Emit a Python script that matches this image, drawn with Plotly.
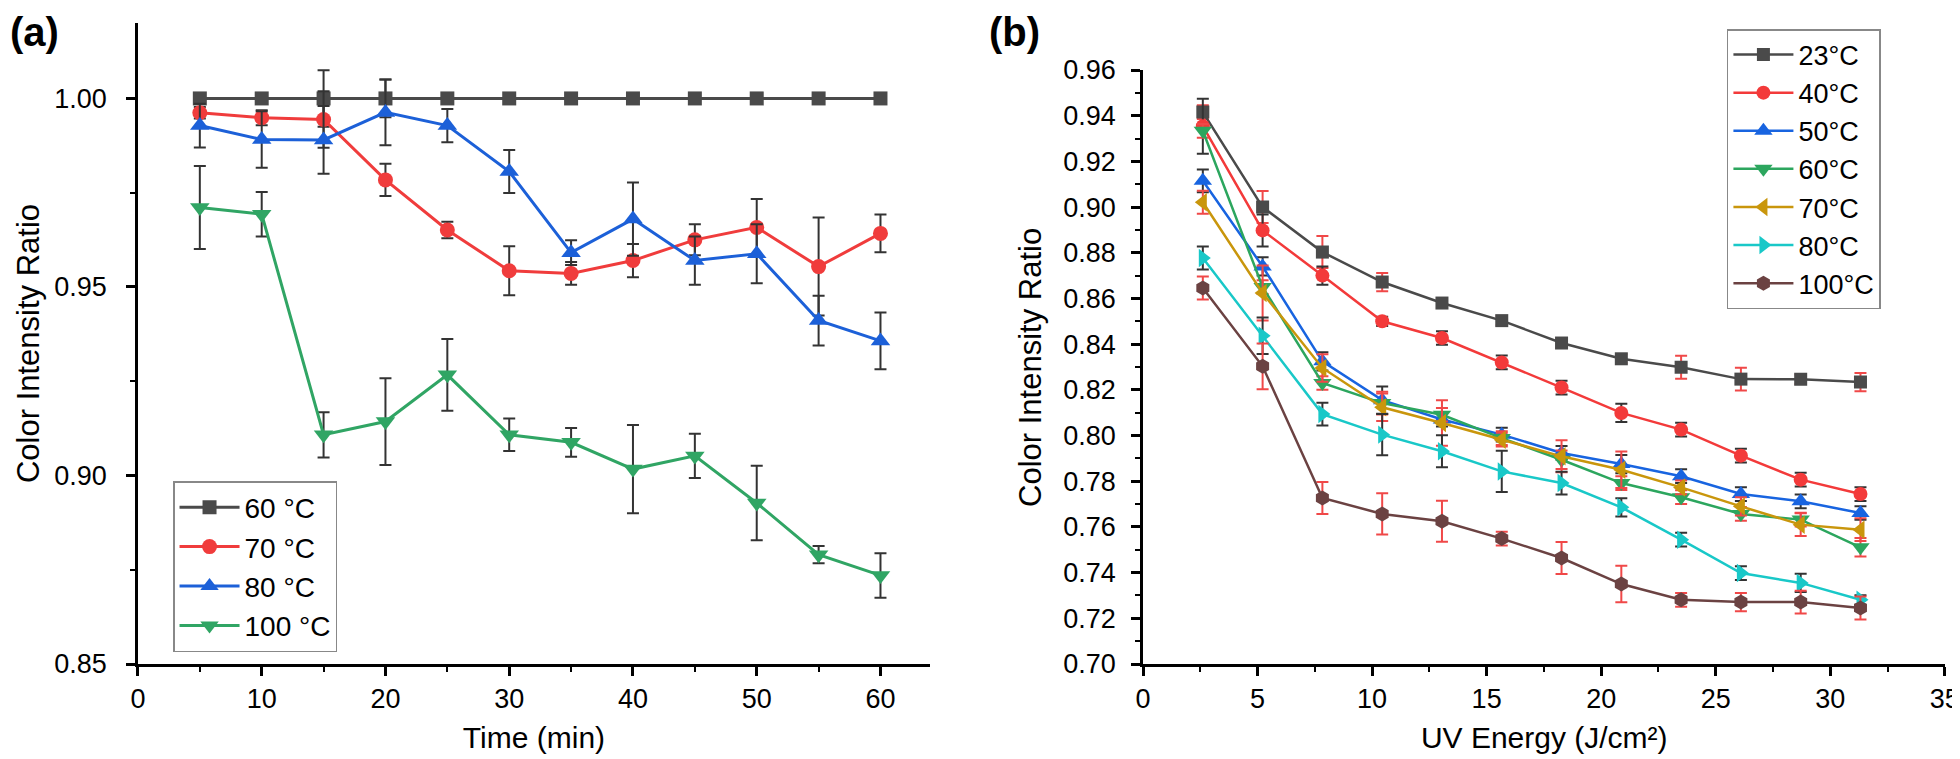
import plotly.graph_objects as go

# (a) colour ratio vs heating time
time_min = [5, 10, 15, 20, 25, 30, 35, 40, 45, 50, 55, 60]
a_names = ["60 °C", "70 °C", "80 °C", "100 °C"]
a_60 = [1.000, 1.000, 1.000, 1.000, 1.000, 1.000, 1.000, 1.000, 1.000, 1.000, 1.000, 1.000]
a_60_err = [0.001, 0.001, 0.0075, 0.005, 0.001, 0.001, 0.001, 0.001, 0.001, 0.001, 0.001, 0.001]
a_70 = [0.9962, 0.9949, 0.9944, 0.9784, 0.9651, 0.9543, 0.9536, 0.9570, 0.9625, 0.9658, 0.9554, 0.9642]
a_70_err = [0.0015, 0.002, 0.0075, 0.0043, 0.0022, 0.0065, 0.003, 0.0044, 0.0041, 0.0075, 0.013, 0.005]
a_80 = [0.9928, 0.9891, 0.9890, 0.9963, 0.9928, 0.9806, 0.9591, 0.9680, 0.9570, 0.9588, 0.9411, 0.9357]
a_80_err = [0.0058, 0.0075, 0.009, 0.0087, 0.0044, 0.0057, 0.0033, 0.0097, 0.0064, 0.0078, 0.0066, 0.0075]
a_100 = [0.9711, 0.9693, 0.9108, 0.9143, 0.9267, 0.9108, 0.9088, 0.9017, 0.9052, 0.8927, 0.8790, 0.8735]
a_100_err = [0.011, 0.0059, 0.006, 0.0115, 0.0095, 0.0043, 0.0038, 0.0117, 0.0059, 0.0099, 0.0023, 0.0059]

# (b) colour ratio vs UV dose
uv_energy = [2.61, 5.22, 7.83, 10.44, 13.05, 15.66, 18.27, 20.88, 23.49, 26.10, 28.71, 31.32]
b_names = ["23°C", "40°C", "50°C", "60°C", "70°C", "80°C", "100°C"]
b_23 = [0.9416, 0.9000, 0.8803, 0.8672, 0.8580, 0.8503, 0.8405, 0.8336, 0.8299, 0.8247, 0.8246, 0.8234]
b_40 = [0.9354, 0.8898, 0.8700, 0.8500, 0.8427, 0.8320, 0.8210, 0.8099, 0.8026, 0.7912, 0.7807, 0.7744]
b_50 = [0.9115, 0.8740, 0.8325, 0.8155, 0.8070, 0.8004, 0.7924, 0.7875, 0.7822, 0.7744, 0.7712, 0.7661]
b_60 = [0.9334, 0.8650, 0.8230, 0.8142, 0.8091, 0.7989, 0.7894, 0.7792, 0.7730, 0.7657, 0.7632, 0.7511]
b_70 = [0.9021, 0.8624, 0.8296, 0.8124, 0.8055, 0.7982, 0.7909, 0.7850, 0.7773, 0.7690, 0.7610, 0.7588]
b_80 = [0.8777, 0.8437, 0.8094, 0.8004, 0.7931, 0.7843, 0.7792, 0.7686, 0.7544, 0.7398, 0.7355, 0.7281]
b_100 = [0.8646, 0.8303, 0.7727, 0.7657, 0.7625, 0.7549, 0.7464, 0.7350, 0.7281, 0.7271, 0.7271, 0.7245]
b_23_err = [0.003, 0.007, 0.007, 0.004, 0.002, 0.002, 0.002, 0.002, 0.005, 0.005, 0.002, 0.004]
b_40_err = [0.012, 0.007, 0.004, 0.002, 0.003, 0.003, 0.003, 0.004, 0.003, 0.003, 0.003, 0.003]
b_50_err = [0.005, 0.004, 0.004, 0.006, 0.003, 0.003, 0.003, 0.004, 0.003, 0.003, 0.003, 0.003]
b_60_err = [0.003, 0.003, 0.003, 0.005, 0.003, 0.003, 0.004, 0.003, 0.003, 0.003, 0.003, 0.004]
b_70_err = [0.005, 0.012, 0.006, 0.006, 0.010, 0.003, 0.007, 0.008, 0.003, 0.004, 0.005, 0.005]
b_80_err = [0.005, 0.008, 0.005, 0.009, 0.007, 0.009, 0.005, 0.004, 0.003, 0.003, 0.004, 0.002]
b_100_err = [0.005, 0.010, 0.007, 0.009, 0.009, 0.003, 0.007, 0.008, 0.003, 0.004, 0.005, 0.005]

FONT = "Arial, Liberation Sans, sans-serif"
ERR_BLACK = "#333333"
ERR_RED = "#f04848"

fig = go.Figure()

a_series = [
    (a_60, a_60_err, "#4a4a4a", "square", 14),
    (a_70, a_70_err, "#f03c3c", "circle", 15),
    (a_80, a_80_err, "#1c60d8", "triangle-up", 17),
    (a_100, a_100_err, "#30a564", "triangle-down", 17),
]
for name, (y, err, col, sym, sz) in zip(a_names, a_series):
    fig.add_trace(go.Scatter(
        x=time_min, y=y, name=name, mode="lines+markers",
        line=dict(color=col, width=3),
        marker=dict(symbol=sym, size=sz, color=col),
        error_y=dict(type="data", array=err, color=ERR_BLACK, thickness=2, width=6),
        xaxis="x", yaxis="y", legend="legend",
    ))

b_series = [
    (b_23, b_23_err, "#4a4a4a", "square", ERR_RED, 13),
    (b_40, b_40_err, "#f33a3a", "circle", ERR_BLACK, 14),
    (b_50, b_50_err, "#1864e0", "triangle-up", ERR_BLACK, 16),
    (b_60, b_60_err, "#2ca65e", "triangle-down", ERR_RED, 16),
    (b_70, b_70_err, "#c9960c", "triangle-left", ERR_RED, 16),
    (b_80, b_80_err, "#19c8c8", "triangle-right", ERR_BLACK, 16),
    (b_100, b_100_err, "#6b4242", "hexagon", ERR_RED, 15),
]
for name, (y, err, col, sym, ecol, sz) in zip(b_names, b_series):
    fig.add_trace(go.Scatter(
        x=uv_energy, y=y, name=name, mode="lines+markers",
        line=dict(color=col, width=2.5),
        marker=dict(symbol=sym, size=sz, color=col),
        error_y=dict(type="data", array=err, color=ecol, thickness=2, width=6),
        xaxis="x2", yaxis="y2", legend="legend2",
    ))

axis_common = dict(
    showline=True, linecolor="black", linewidth=2.5, mirror=False,
    ticks="outside", ticklen=9, tickwidth=2.5, tickcolor="black",
    showgrid=False, zeroline=False, automargin=False, ticklabeloverflow="allow",
    tickfont=dict(family=FONT, size=27, color="black"),
)
minor_common = dict(ticks="outside", ticklen=5, tickwidth=2, tickcolor="black", showgrid=False)

fig.update_layout(
    width=1960, height=759,
    margin=dict(l=0, r=0, t=0, b=0),
    paper_bgcolor="white", plot_bgcolor="white",
    font=dict(family=FONT, color="black"),
    xaxis=dict(axis_common, domain=[0.0663, 0.4704], range=[0, 64], dtick=10,
               minor=dict(minor_common, dtick=5),
               title=dict(text="Time (min)", font=dict(size=30), standoff=14)),
    yaxis=dict(axis_common, domain=[0.1357, 0.9802], range=[0.85, 1.02], dtick=0.05,
               tickformat=".2f", minor=dict(minor_common, dtick=0.025), ticklabelstandoff=14),
    xaxis2=dict(axis_common, domain=[0.5791, 0.9885], range=[0, 35.03], dtick=5,
                anchor="y2", minor=dict(minor_common, dtick=2.5),
                title=dict(text="UV Energy (J/cm²)", font=dict(size=30), standoff=14)),
    yaxis2=dict(axis_common, domain=[0.1357, 0.9183], range=[0.70, 0.96], dtick=0.02,
                anchor="x2", tickformat=".2f", minor=dict(minor_common, dtick=0.01),
                ticklabelstandoff=10),
    legend=dict(x=0.0842, y=0.3768, xanchor="left", yanchor="top",
                bgcolor="white", bordercolor="#888888", borderwidth=1.5,
                font=dict(family=FONT, size=28), itemwidth=60, tracegroupgap=0),
    legend2=dict(x=0.877, y=0.9723, xanchor="left", yanchor="top",
                 bgcolor="white", bordercolor="#888888", borderwidth=1.5,
                 font=dict(family=FONT, size=27), itemwidth=60, tracegroupgap=0),
    showlegend=True,
)

# y-axis titles placed as rotated annotations
fig.add_annotation(text="Color Intensity Ratio", x=0.0105, y=0.558, xref="paper", yref="paper",
                   textangle=-90, showarrow=False, xanchor="center", yanchor="middle",
                   font=dict(family=FONT, size=31, color="black"))
fig.add_annotation(text="Color Intensity Ratio", x=0.5214, y=0.527, xref="paper", yref="paper",
                   textangle=-90, showarrow=False, xanchor="center", yanchor="middle",
                   font=dict(family=FONT, size=31, color="black"))

fig.add_annotation(text="<b>(a)</b>", x=0, y=1, xref="paper", yref="paper",
                   xanchor="left", yanchor="top", showarrow=False, xshift=0, yshift=0,
                   font=dict(family=FONT, size=40, color="black"))
fig.add_annotation(text="<b>(b)</b>", x=0.5056, y=1, xref="paper", yref="paper",
                   xanchor="left", yanchor="top", showarrow=False, xshift=-12, yshift=0,
                   font=dict(family=FONT, size=40, color="black"))

fig.write_html("out.html")
